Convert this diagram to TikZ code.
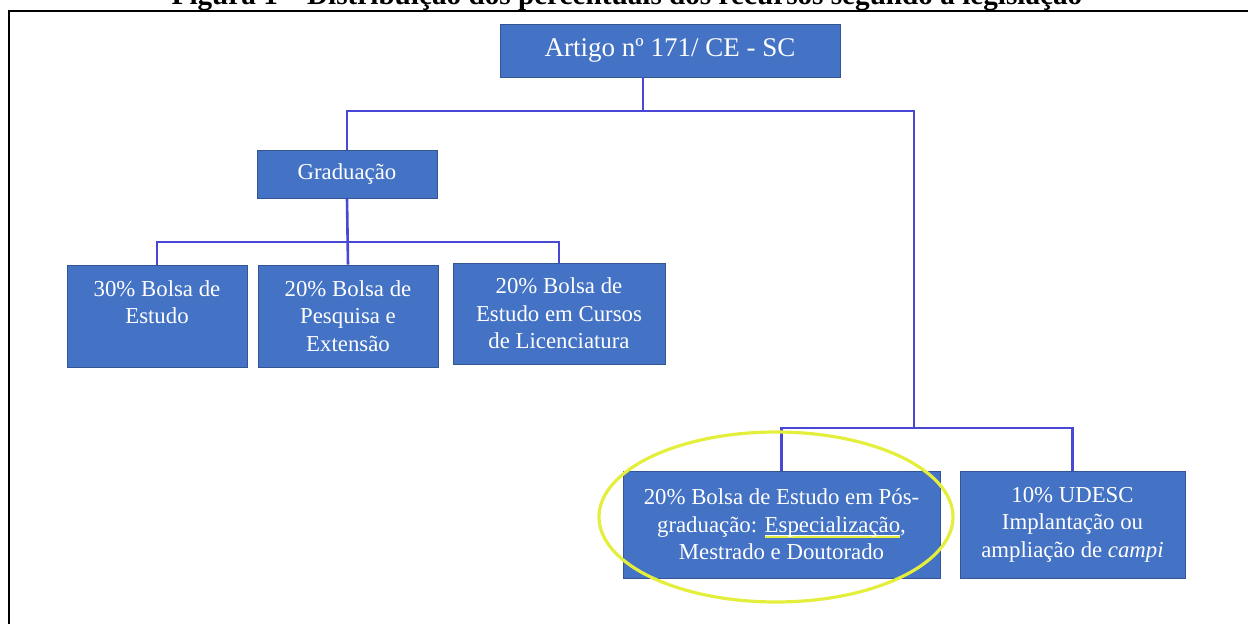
\documentclass[tikz,border=0pt]{standalone}
\usepackage{fontspec}
\setmainfont{Liberation Serif}
\usetikzlibrary{positioning,calc}

\definecolor{boxblue}{RGB}{68,114,196}
\definecolor{linkblue}{RGB}{72,72,212}
\definecolor{marker}{RGB}{228,238,60}

\newsavebox{\wordbox}
\newcommand{\markword}[1]{\sbox{\wordbox}{#1}%
  \rlap{\color{white}\rule[-1.6pt]{\wd\wordbox}{0.5pt}}%
  \rlap{\color{marker}\rule[-2.9pt]{\wd\wordbox}{1pt}}%
  \usebox{\wordbox}}

\begin{document}
\begin{tikzpicture}
  [
  x=0.5pt, y=-0.5pt,
  boxnode/.style={rectangle, fill=boxblue, draw=boxblue!75!black, line width=0.4pt,
    text=white, align=center, inner sep=0pt, font=\fontsize{11.4}{13.8}\selectfont},
  link/.style={draw=linkblue, line width=1.3pt},
  ring/.style={draw=marker, line width=1.6pt},
  ]
  \useasboundingbox (0,0) rectangle (1248,624);

  \node[anchor=base, font=\bfseries\fontsize{14.6}{16}\selectfont] (title) at (627,5)
    {Figura 1 – Distribuição dos percentuais dos recursos segundo a legislação};
  \draw[line width=1pt] (9,11) rectangle (1300,700);

  \node[boxnode, minimum width=170pt, minimum height=26.5pt,
    font=\fontsize{13.5}{15}\selectfont] (artigo) at (670,50.5) {Artigo nº 171/ CE - SC};
  \node[boxnode, minimum width=90pt, minimum height=24pt] (grad) at (347,174) {Graduação};

  \node[boxnode, minimum width=90pt, minimum height=51pt] (b30) at (157,316)
    {30\% Bolsa de\\Estudo\\ };
  \node[boxnode, minimum width=90pt, minimum height=51pt] (b20p) at (348,316)
    {20\% Bolsa de\\Pesquisa e\\Extensão};
  \node[boxnode, minimum width=106pt, minimum height=50.5pt] (b20l) at (559,313.5)
    {20\% Bolsa de\\Estudo em Cursos\\de Licenciatura};

  \node[boxnode, minimum width=158.5pt, minimum height=53.5pt] (pg) at (781.5,524.5)
    {20\% Bolsa de Estudo em Pós-\\graduação: \markword{Especialização},\\Mestrado e Doutorado};
  \node[boxnode, minimum width=112.5pt, minimum height=53.5pt] (udesc) at (1072.5,524.5)
    {10\% UDESC\\Implantação ou\\ampliação de \textit{campi}};

  % junctions
  \coordinate (topjoin) at (643,111);
  \coordinate (postjoin) at (914,428);
  \coordinate (gradjoin) at (347,242);

  \draw[link] (artigo.south -| topjoin) -- (topjoin);
  \draw[link] (grad.north) |- (topjoin) -| (postjoin);
  \draw[link] (b30.north) |- (gradjoin) -| (b20l.north);
  \draw[link] (grad.south) -- (b20p.north);
  \draw[link] (pg.north) |- (postjoin) -| (udesc.north);

  \draw[ring] (776,517) ellipse [x radius=88.5pt, y radius=42.5pt];
\end{tikzpicture}
\end{document}
